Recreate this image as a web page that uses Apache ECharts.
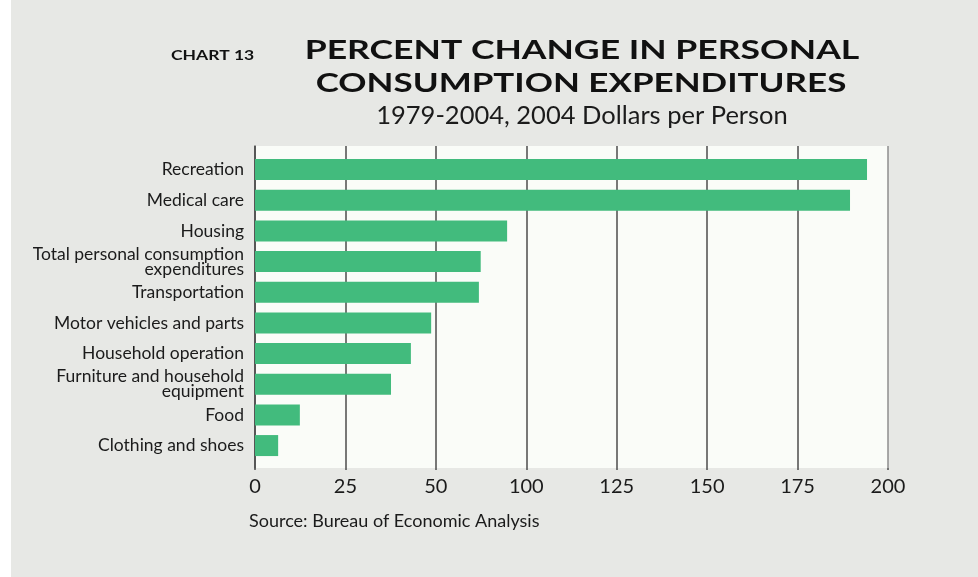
<!DOCTYPE html>
<html>
<head>
<meta charset="utf-8">
<title>Percent Change in Personal Consumption Expenditures</title>
<script src="https://cdn.jsdelivr.net/npm/echarts@6/dist/echarts.min.js"></script>
<style>
  html, body { margin: 0; padding: 0; background: #ffffff; }
  #chart { width: 978px; height: 577px; }
</style>
</head>
<body>
<div id="chart"></div>
<script>
// Spending categories, top to bottom
const categories = [
  'Recreation',
  'Medical care',
  'Housing',
  'Total personal consumption\nexpenditures',
  'Transportation',
  'Motor vehicles and parts',
  'Household operation',
  'Furniture and household\nequipment',
  'Food',
  'Clothing and shoes'
];

// Bar lengths on the axis scale (one gridline step = 25)
const changeValues = [169.2, 164.5, 69.7, 62.4, 61.9, 48.7, 43.1, 37.6, 12.4, 6.4];

// Labels printed under the gridlines, left to right
const tickLabels = ['0', '25', '50', '100', '125', '150', '175', '200'];

const STEP = 25;
const AXIS_MAX = STEP * (tickLabels.length - 1);
const FONT = 'Lato, "Noto Sans", sans-serif';
const INK = '#1b1b1b';

const gridLineColors = tickLabels.map((_, i) => i === tickLabels.length - 1 ? '#8e8e8e' : '#4c4c4c');

const chart = echarts.init(document.getElementById('chart'));

// Wide, tracked heading lines are drawn stretched horizontally
function heading(text, x, y, size, weight, stretch, align) {
  return {
    type: 'text', x: x, y: y, scaleX: stretch, silent: true,
    style: { text: text, fontSize: size, fontWeight: weight, fontFamily: FONT, fill: '#111111',
             textAlign: align, textVerticalAlign: 'bottom' }
  };
}

chart.setOption({
  animation: false,
  backgroundColor: '#e7e8e5',
  textStyle: { fontFamily: FONT },
  grid: [
    // plot panel with gridlines and value axis
    { left: 255, right: 90, top: 146, bottom: 109, show: true, backgroundColor: '#fafcf8', borderWidth: 0 },
    // bar band
    { left: 255, right: 90, top: 154.2, bottom: 116.1 }
  ],
  xAxis: [
    {
      gridIndex: 0,
      type: 'value',
      min: 0,
      max: AXIS_MAX,
      interval: STEP,
      axisLine: { show: false },
      axisTick: { show: true, length: 2, lineStyle: { color: '#4c4c4c', width: 1.5 } },
      axisLabel: {
        fontSize: 20,
        color: INK,
        margin: 9,
        fontFamily: FONT,
        formatter: v => tickLabels[Math.round(v / STEP)]
      },
      splitLine: { show: true, lineStyle: { color: gridLineColors, width: 1.5 } }
    },
    { gridIndex: 1, type: 'value', min: 0, max: AXIS_MAX, show: false }
  ],
  yAxis: [
    {
      gridIndex: 0,
      type: 'value',
      min: 0,
      max: 1,
      axisLine: { show: true, lineStyle: { color: '#4c4c4c', width: 1.5 } },
      axisTick: { show: false },
      axisLabel: { show: false },
      splitLine: { show: false }
    },
    {
      gridIndex: 1,
      type: 'category',
      data: categories,
      inverse: true,
      axisLine: { show: false },
      axisTick: { show: false },
      axisLabel: { fontSize: 17.5, lineHeight: 15, color: INK, margin: 11, fontFamily: FONT }
    }
  ],
  series: [
    {
      type: 'bar',
      xAxisIndex: 1,
      yAxisIndex: 1,
      data: changeValues,
      barWidth: 21,
      silent: true,
      itemStyle: { color: '#42bb7d' }
    }
  ],
  graphic: [
    { type: 'rect', shape: { x: 0, y: 0, width: 11, height: 577 }, style: { fill: '#ffffff' }, silent: true },
    heading('CHART 13', 171, 62, 12.5, 'bold', 1.4, 'left'),
    heading('PERCENT CHANGE IN PERSONAL', 582, 64, 26, 'bold', 1.367, 'center'),
    heading('CONSUMPTION EXPENDITURES', 581, 96.5, 26, 'bold', 1.345, 'center'),
    {
      type: 'text', x: 582, y: 116, silent: true,
      style: { text: '1979-2004, 2004 Dollars per Person', fontSize: 25.5, fontFamily: FONT, fill: INK,
               textAlign: 'center', textVerticalAlign: 'middle' }
    },
    {
      type: 'text', x: 249, y: 521, silent: true,
      style: { text: 'Source: Bureau of Economic Analysis', fontSize: 18, fontFamily: FONT, fill: INK,
               textAlign: 'left', textVerticalAlign: 'middle' }
    }
  ]
});
</script>
</body>
</html>
